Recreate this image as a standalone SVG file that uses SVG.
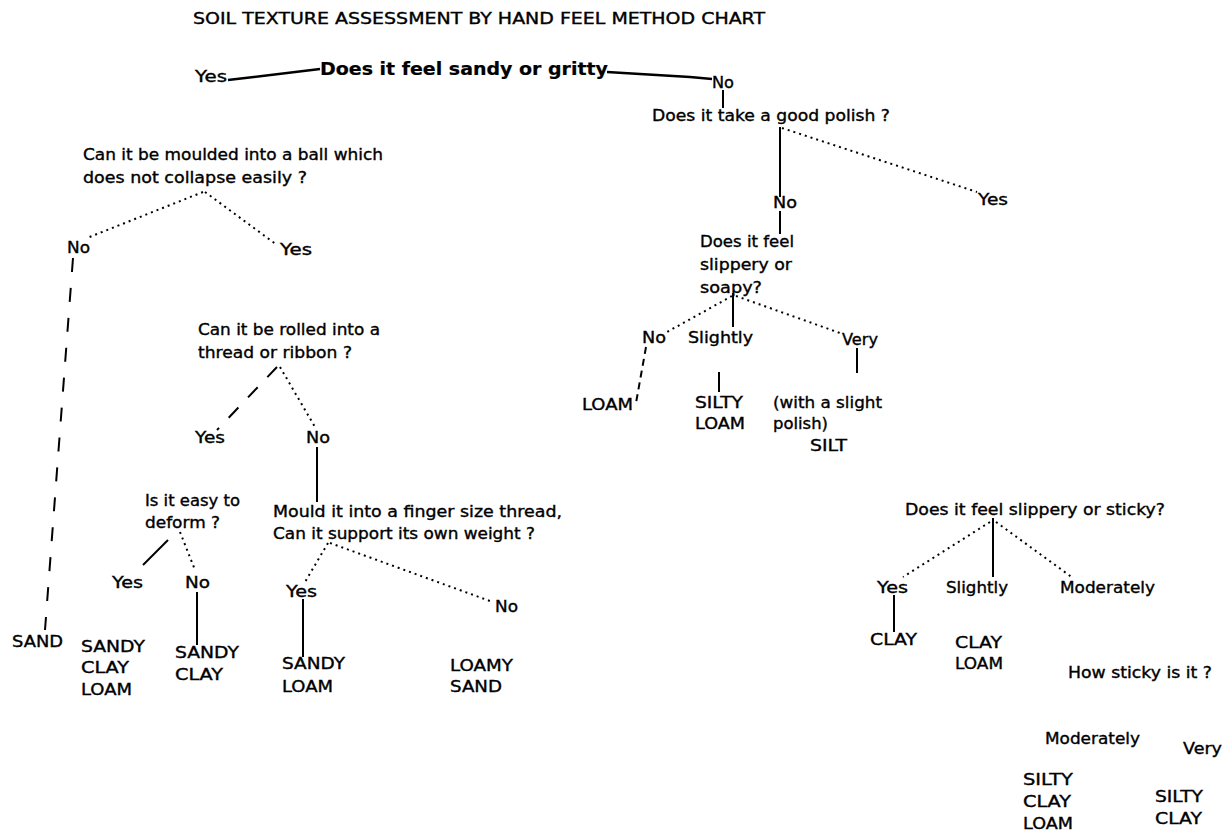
<svg xmlns="http://www.w3.org/2000/svg" width="1228" height="832" viewBox="0 0 1228 832">
<style>
text{font-family:"DejaVu Sans","Liberation Sans",sans-serif;font-size:15px;fill:#000;stroke:#000;stroke-width:0.35}
.title{font-size:15px}
.bold{font-weight:bold;font-size:17px;stroke-width:0.2}
.solid{stroke:#000;stroke-width:2;fill:none}
.thick{stroke:#000;stroke-width:2.5;fill:none}
.dot{stroke:#000;stroke-width:2;fill:none;stroke-dasharray:2 4}
.dash{stroke:#000;stroke-width:2;fill:none;stroke-dasharray:14 14}
.dashs{stroke:#000;stroke-width:2;fill:none;stroke-dasharray:7 5}
.dashl{stroke:#000;stroke-width:2;fill:none;stroke-dasharray:14 16}
</style>
<rect width="1228" height="832" fill="#fff"/>
<text class="title" x="193" y="24" textLength="572" lengthAdjust="spacingAndGlyphs">SOIL TEXTURE ASSESSMENT BY HAND FEEL METHOD CHART</text>
<g id="connectors">
<line class="thick" x1="228" y1="80" x2="320" y2="69"/>
<polyline class="thick" points="607,72 640,74 690,77 712,79"/>
<line class="solid" x1="723" y1="90" x2="723" y2="108"/>
<line class="solid" x1="780" y1="127" x2="780" y2="197"/>
<line class="dot" x1="782" y1="128" x2="977" y2="192"/>
<line class="solid" x1="780" y1="211" x2="780" y2="234"/>
<line class="dot" x1="732" y1="296" x2="667" y2="332"/>
<line class="solid" x1="733" y1="293" x2="733" y2="327"/>
<line class="dot" x1="736" y1="296" x2="840" y2="333"/>
<line class="solid" x1="857" y1="348" x2="857" y2="373"/>
<line class="dashs" x1="646" y1="347" x2="636" y2="403"/>
<line class="solid" x1="719" y1="372" x2="719" y2="392"/>
<line class="dot" x1="203" y1="192" x2="87" y2="238"/>
<line class="dot" x1="205" y1="192" x2="277" y2="245"/>
<line class="dashl" x1="73" y1="258" x2="45" y2="630"/>
<line class="dash" x1="277" y1="367" x2="217" y2="430"/>
<line class="dot" x1="280" y1="367" x2="315" y2="427"/>
<line class="solid" x1="317" y1="447" x2="317" y2="502"/>
<line class="solid" x1="168" y1="540" x2="143" y2="565"/>
<line class="dot" x1="180" y1="532" x2="195" y2="570"/>
<line class="solid" x1="197" y1="592" x2="197" y2="645"/>
<line class="dot" x1="328" y1="543" x2="305" y2="582"/>
<line class="dot" x1="330" y1="543" x2="490" y2="601"/>
<line class="solid" x1="303" y1="599" x2="303" y2="657"/>
<line class="dot" x1="990" y1="522" x2="903" y2="577"/>
<line class="solid" x1="993" y1="518" x2="993" y2="577"/>
<line class="dot" x1="996" y1="522" x2="1073" y2="578"/>
<line class="solid" x1="894" y1="595" x2="894" y2="632"/>
</g>
<g id="n-gritty"><text class="bold" x="320" y="75" textLength="288" lengthAdjust="spacingAndGlyphs">Does it feel sandy or gritty</text></g>
<g id="n-yes-top"><text x="195" y="82" textLength="32" lengthAdjust="spacingAndGlyphs">Yes</text></g>
<g id="n-no-top"><text x="712" y="88" textLength="22" lengthAdjust="spacingAndGlyphs">No</text></g>
<g id="n-polish"><text x="652" y="121" textLength="238" lengthAdjust="spacingAndGlyphs">Does it take a good polish ?</text></g>
<g id="n-polish-no"><text x="773" y="208" textLength="24" lengthAdjust="spacingAndGlyphs">No</text></g>
<g id="n-polish-yes"><text x="978" y="205" textLength="30" lengthAdjust="spacingAndGlyphs">Yes</text></g>
<g id="n-soapy">
<text x="700" y="247" textLength="94" lengthAdjust="spacingAndGlyphs">Does it feel</text>
<text x="700" y="270" textLength="92" lengthAdjust="spacingAndGlyphs">slippery or</text>
<text x="700" y="293" textLength="62" lengthAdjust="spacingAndGlyphs">soapy?</text>
</g>
<g id="n-soapy-no"><text x="642" y="343" textLength="24" lengthAdjust="spacingAndGlyphs">No</text></g>
<g id="n-soapy-slightly"><text x="688" y="343" textLength="65" lengthAdjust="spacingAndGlyphs">Slightly</text></g>
<g id="n-soapy-very"><text x="842" y="345" textLength="36" lengthAdjust="spacingAndGlyphs">Very</text></g>
<g id="n-loam"><text x="582" y="410" textLength="51" lengthAdjust="spacingAndGlyphs">LOAM</text></g>
<g id="n-silty-loam">
<text x="695" y="408" textLength="48" lengthAdjust="spacingAndGlyphs">SILTY</text>
<text x="695" y="429" textLength="50" lengthAdjust="spacingAndGlyphs">LOAM</text>
</g>
<g id="n-silt">
<text x="773" y="408" textLength="109" lengthAdjust="spacingAndGlyphs">(with a slight</text>
<text x="773" y="429" textLength="55" lengthAdjust="spacingAndGlyphs">polish)</text>
<text x="810" y="451" textLength="37" lengthAdjust="spacingAndGlyphs">SILT</text>
</g>
<g id="n-ball">
<text x="83" y="160" textLength="300" lengthAdjust="spacingAndGlyphs">Can it be moulded into a ball which</text>
<text x="83" y="183" textLength="224" lengthAdjust="spacingAndGlyphs">does not collapse easily ?</text>
</g>
<g id="n-ball-no"><text x="67" y="253" textLength="23" lengthAdjust="spacingAndGlyphs">No</text></g>
<g id="n-ball-yes"><text x="280" y="255" textLength="32" lengthAdjust="spacingAndGlyphs">Yes</text></g>
<g id="n-thread">
<text x="198" y="335" textLength="182" lengthAdjust="spacingAndGlyphs">Can it be rolled into a</text>
<text x="198" y="358" textLength="154" lengthAdjust="spacingAndGlyphs">thread or ribbon ?</text>
</g>
<g id="n-thread-yes"><text x="195" y="443" textLength="30" lengthAdjust="spacingAndGlyphs">Yes</text></g>
<g id="n-thread-no"><text x="306" y="443" textLength="24" lengthAdjust="spacingAndGlyphs">No</text></g>
<g id="n-deform">
<text x="145" y="506" textLength="95" lengthAdjust="spacingAndGlyphs">Is it easy to</text>
<text x="145" y="528" textLength="75" lengthAdjust="spacingAndGlyphs">deform ?</text>
</g>
<g id="n-mould">
<text x="273" y="517" textLength="289" lengthAdjust="spacingAndGlyphs">Mould it into a finger size thread,</text>
<text x="273" y="539" textLength="262" lengthAdjust="spacingAndGlyphs">Can it support its own weight ?</text>
</g>
<g id="n-deform-yes"><text x="112" y="588" textLength="31" lengthAdjust="spacingAndGlyphs">Yes</text></g>
<g id="n-deform-no"><text x="185" y="588" textLength="25" lengthAdjust="spacingAndGlyphs">No</text></g>
<g id="n-mould-yes"><text x="286" y="597" textLength="31" lengthAdjust="spacingAndGlyphs">Yes</text></g>
<g id="n-mould-no"><text x="495" y="612" textLength="23" lengthAdjust="spacingAndGlyphs">No</text></g>
<g id="n-sand"><text x="12" y="647" textLength="51" lengthAdjust="spacingAndGlyphs">SAND</text></g>
<g id="n-sandy-clay-loam">
<text x="81" y="652" textLength="64" lengthAdjust="spacingAndGlyphs">SANDY</text>
<text x="81" y="673" textLength="48" lengthAdjust="spacingAndGlyphs">CLAY</text>
<text x="81" y="695" textLength="51" lengthAdjust="spacingAndGlyphs">LOAM</text>
</g>
<g id="n-sandy-clay">
<text x="175" y="658" textLength="64" lengthAdjust="spacingAndGlyphs">SANDY</text>
<text x="175" y="680" textLength="48" lengthAdjust="spacingAndGlyphs">CLAY</text>
</g>
<g id="n-sandy-loam">
<text x="282" y="669" textLength="63" lengthAdjust="spacingAndGlyphs">SANDY</text>
<text x="282" y="692" textLength="51" lengthAdjust="spacingAndGlyphs">LOAM</text>
</g>
<g id="n-loamy-sand">
<text x="450" y="671" textLength="63" lengthAdjust="spacingAndGlyphs">LOAMY</text>
<text x="450" y="692" textLength="52" lengthAdjust="spacingAndGlyphs">SAND</text>
</g>
<g id="n-sticky"><text x="905" y="515" textLength="260" lengthAdjust="spacingAndGlyphs">Does it feel slippery or sticky?</text></g>
<g id="n-sticky-yes"><text x="877" y="593" textLength="31" lengthAdjust="spacingAndGlyphs">Yes</text></g>
<g id="n-sticky-slightly"><text x="946" y="593" textLength="62" lengthAdjust="spacingAndGlyphs">Slightly</text></g>
<g id="n-sticky-moderately"><text x="1060" y="593" textLength="95" lengthAdjust="spacingAndGlyphs">Moderately</text></g>
<g id="n-clay"><text x="870" y="645" textLength="47" lengthAdjust="spacingAndGlyphs">CLAY</text></g>
<g id="n-clay-loam">
<text x="955" y="648" textLength="47" lengthAdjust="spacingAndGlyphs">CLAY</text>
<text x="955" y="669" textLength="48" lengthAdjust="spacingAndGlyphs">LOAM</text>
</g>
<g id="n-howsticky"><text x="1068" y="678" textLength="144" lengthAdjust="spacingAndGlyphs">How sticky is it ?</text></g>
<g id="n-how-moderately"><text x="1045" y="744" textLength="95" lengthAdjust="spacingAndGlyphs">Moderately</text></g>
<g id="n-how-very"><text x="1183" y="754" textLength="39" lengthAdjust="spacingAndGlyphs">Very</text></g>
<g id="n-silty-clay-loam">
<text x="1023" y="785" textLength="50" lengthAdjust="spacingAndGlyphs">SILTY</text>
<text x="1023" y="807" textLength="48" lengthAdjust="spacingAndGlyphs">CLAY</text>
<text x="1023" y="829" textLength="50" lengthAdjust="spacingAndGlyphs">LOAM</text>
</g>
<g id="n-silty-clay">
<text x="1155" y="802" textLength="48" lengthAdjust="spacingAndGlyphs">SILTY</text>
<text x="1155" y="824" textLength="47" lengthAdjust="spacingAndGlyphs">CLAY</text>
</g>
</svg>
